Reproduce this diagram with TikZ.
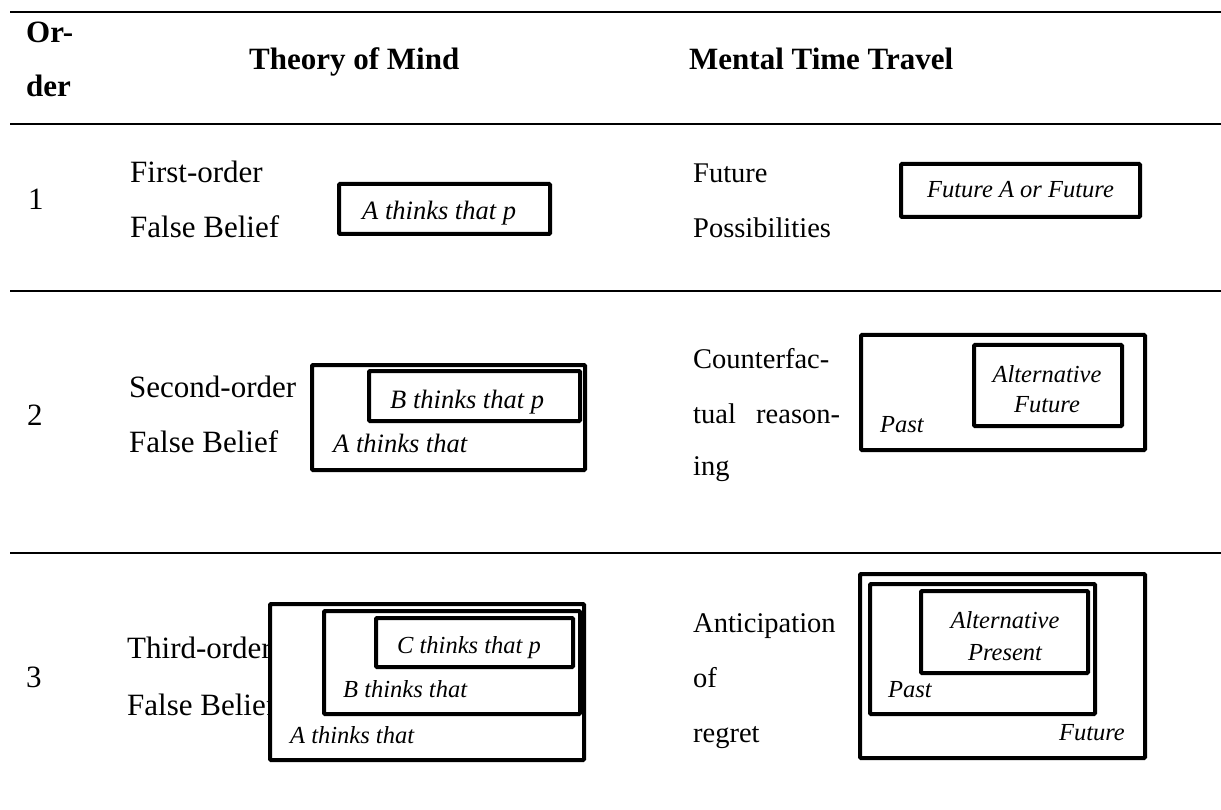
\documentclass[tikz,border=0pt]{standalone}
\usepackage{fontspec}
\setmainfont{Liberation Serif}
\begin{document}
\begin{tikzpicture}[x=1pt,y=-1pt,
  hdr/.style={font=\fontsize{31}{31}\selectfont\bfseries, anchor=base west, inner sep=0pt},
  lbl/.style={font=\fontsize{31}{31}\selectfont, anchor=base west, inner sep=0pt},
  lblm/.style={font=\fontsize{28.5}{28.5}\selectfont, anchor=base west, inner sep=0pt},
  itl/.style={font=\fontsize{26.5}{26.5}\selectfont\itshape, anchor=base west, inner sep=0pt},
  its/.style={font=\fontsize{24.5}{24.5}\selectfont\itshape, anchor=base west, inner sep=0pt},
  framebox/.style={draw, line width=4pt, fill=white, rounded corners=1pt},
  rule/.style={line width=2.5pt}]
\useasboundingbox (0,0) rectangle (1221,810);

% table rules
\draw[rule] (10,12) -- (1221,12);
\draw[rule] (10,124) -- (1221,124);
\draw[rule] (10,291) -- (1221,291);
\draw[rule] (10,553) -- (1221,553);

% header
\node[hdr] (hor) at (26,43) {Or-};
\node[hdr] (hder) at (26,97) {der};
\node[hdr] (htom) at (249,70) {Theory of Mind};
\node[hdr] (hmtt) at (689,70) {Mental Time Travel};

% row 1
\node[lbl] (n1) at (28,210) {1};
\node[lbl] (r1a) at (130,183) {First-order};
\node[lbl] (r1b) at (130,238) {False Belief};
\node[lblm] (m1a) at (693,183) {Future};
\node[lblm] (m1b) at (693,238) {Possibilities};
\draw[framebox] (339,184) rectangle (550,234);
\node[itl] (t1) at (362,220) {A thinks that p};
\draw[framebox] (901,164) rectangle (1140,217);
\node[its] (f1) at (927,198) {Future A or Future};

% row 2
\node[lbl] (n2) at (27,425) {2};
\node[lbl] (r2a) at (129,397) {Second-order};
\node[lbl] (r2b) at (129,452) {False Belief};
\node[lblm] (m2a) at (693,368) {Counterfac-};
\node[lblm] (m2b) at (693,423) {tual};
\node[lblm] (m2c) at (756,423) {reason-};
\node[lblm] (m2d) at (693,475) {ing};
\draw[framebox] (312,365) rectangle (585,470);
\draw[framebox] (369,371) rectangle (580,421);
\node[itl] (t2b) at (390,408) {B thinks that p};
\node[itl] (t2a) at (333,452) {A thinks that};
\draw[framebox] (861,335) rectangle (1145,450);
\draw[framebox] (974,345) rectangle (1122,426);
\node[its, anchor=base] (f2a) at (1047,382) {Alternative};
\node[its, anchor=base] (f2b) at (1047,412) {Future};
\node[its] (f2p) at (880,432) {Past};

% row 3
\node[lbl] (n3) at (26,687) {3};
\node[lbl] (r3a) at (127,658) {Third-order};
\node[lbl] (r3b) at (127,715) {False Belief};
\node[lblm] (m3a) at (693,632) {Anticipation};
\node[lblm] (m3b) at (693,687) {of};
\node[lblm] (m3c) at (693,742) {regret};
\draw[framebox] (270,604) rectangle (584,760);
\draw[framebox] (324,611) rectangle (580,714);
\draw[framebox] (376,618) rectangle (573,667);
\node[its] (t3c) at (397,653) {C thinks that p};
\node[its] (t3b) at (343,697) {B thinks that};
\node[its] (t3a) at (290,743) {A thinks that};
\draw[framebox] (860,574) rectangle (1145,758);
\draw[framebox] (870,584) rectangle (1095,714);
\draw[framebox] (921,591) rectangle (1088,673);
\node[its, anchor=base] (f3a) at (1005,628) {Alternative};
\node[its, anchor=base] (f3b) at (1005,660) {Present};
\node[its] (f3p) at (888,697) {Past};
\node[its, anchor=base east] (f3f) at (1125,740) {Future};
\end{tikzpicture}
\end{document}
